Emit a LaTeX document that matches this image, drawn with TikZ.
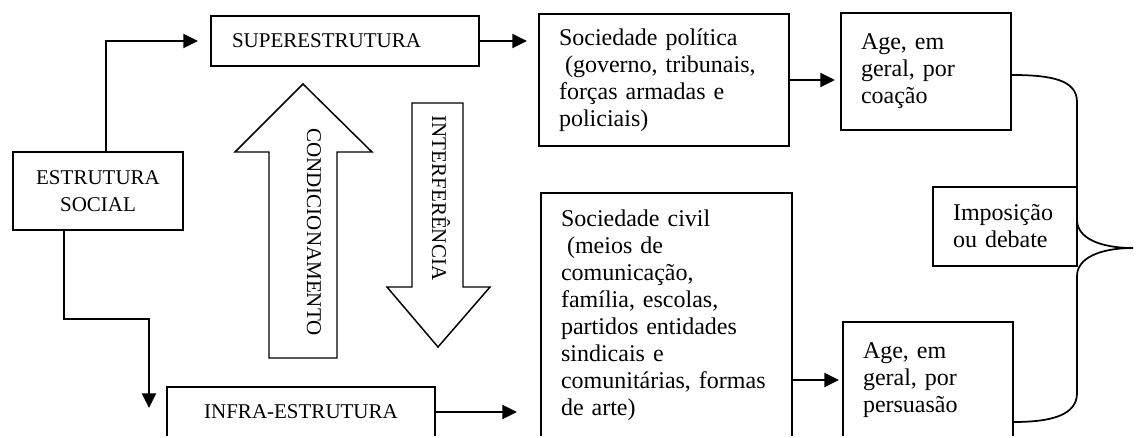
\documentclass[tikz,border=0pt]{standalone}
\usepackage{fontspec}
\setmainfont{Liberation Serif}
\usetikzlibrary{arrows.meta, positioning}

\begin{document}
\begin{tikzpicture}[x=0.75pt, y=-0.75pt, >={Triangle[length=11pt,width=10.5pt]}]
      \tikzstyle{caixa}=[draw=black, line width=1.3pt, anchor=north west, outer sep=0pt, inner ysep=0pt, inner xsep=15pt, text=black, align=left, font=\fontsize{18}{20.25}\selectfont]
      \tikzstyle{maiusc}=[font=\fontsize{15.75}{20.25}\selectfont]
      \tikzstyle{liga}=[->, line width=1.7pt]
      \tikzstyle{bloco}=[draw=black, line width=1.1pt]
      \useasboundingbox (0,0) rectangle (1137,437);
      \clip (0,0) rectangle (1137,435.5);
      % caixas
      \node[caixa, maiusc, align=center, inner xsep=7.5pt, text width=112.5pt, minimum height=58.5pt] (est) at (13,152) {ESTRUTURA\\SOCIAL};
      \node[caixa, maiusc, inner xsep=15.75pt, text width=169.5pt, minimum height=37.5pt] (super) at (211,16) {SUPERESTRUTURA};
      \node[caixa, maiusc, align=center, inner xsep=15.75pt, text width=169.5pt, minimum height=37.5pt] (infra) at (167,387) {INFRA-ESTRUTURA};
      \node[caixa, text width=157.5pt, minimum height=99pt] (pol) at (539,14) {Sociedade política\\\hspace*{0.25em}(governo, tribunais,\\forças armadas e\\policiais)};
      \node[caixa, text width=158.25pt, minimum height=183pt] (civ) at (541,193) {Sociedade civil\\\hspace*{0.25em}(meios de\\comunicação,\\família, escolas,\\partidos entidades\\sindicais e\\comunitárias, formas\\de arte)};
      \node[caixa, text width=97.5pt, minimum height=87.75pt] (coa) at (841,13) {Age, em\\geral, por\\coação};
      \node[caixa, text width=97.5pt, minimum height=87pt] (per) at (843,322) {Age, em\\geral, por\\persuasão};
      \node[caixa, text width=78pt, minimum height=59.25pt] (imp) at (933,187) {Imposição\\ou debate};
      % setas largas
      \draw[bloco] (269,358) -- (269,152) -- (235,152) -- (303,84) -- (372,152) -- (337,152) -- (337,358) -- cycle;
      \node[maiusc, rotate=-90, inner sep=0pt] (cond) at (314,232) {CONDICIONAMENTO};
      \draw[bloco] (412,103) -- (463,103) -- (463,287) -- (490,287) -- (438,347) -- (387,287) -- (412,287) -- cycle;
      \node[maiusc, rotate=-90, inner sep=0pt] (interf) at (441,198) {INTERFERÊNCIA};
      % ligacoes
      \coordinate (pontaInfra) at ([xshift=-13.5pt, yshift=3pt]infra.west);
      \draw[liga, shorten >=9.75pt] ([xshift=6pt]est.north) |- (super.west);
      \draw[liga] ([xshift=-25.5pt]est.south) -- ++(0,89) -| (pontaInfra);
      \draw[liga, shorten >=9pt] (super.east) -- (super.east -| pol.west);
      \draw[liga, shorten >=18pt] (infra.east) -- (infra.east -| civ.west);
      \draw[liga, shorten >=4.5pt] (pol.east) -- (pol.east -| coa.west);
      \draw[liga, shorten >=3pt] (civ.east |- per.west) -- (per.west);
      % chave
      \coordinate (ponta) at (1133,248);
      \coordinate (fimChave) at ([yshift=-31.5pt]per.east);
      \draw[line width=1.3pt] ([yshift=-2.6pt]coa.east) .. controls (1052,75) and (1077,80) .. (1077,102) -- (1077,220)
            .. controls (1077,238) and (1100,248) .. (ponta)
            .. controls (1100,248) and (1077,258) .. (1077,276) -- (1077,393)
            .. controls (1077,415) and (1052,422) .. (fimChave);
    \end{tikzpicture}
\end{document}
